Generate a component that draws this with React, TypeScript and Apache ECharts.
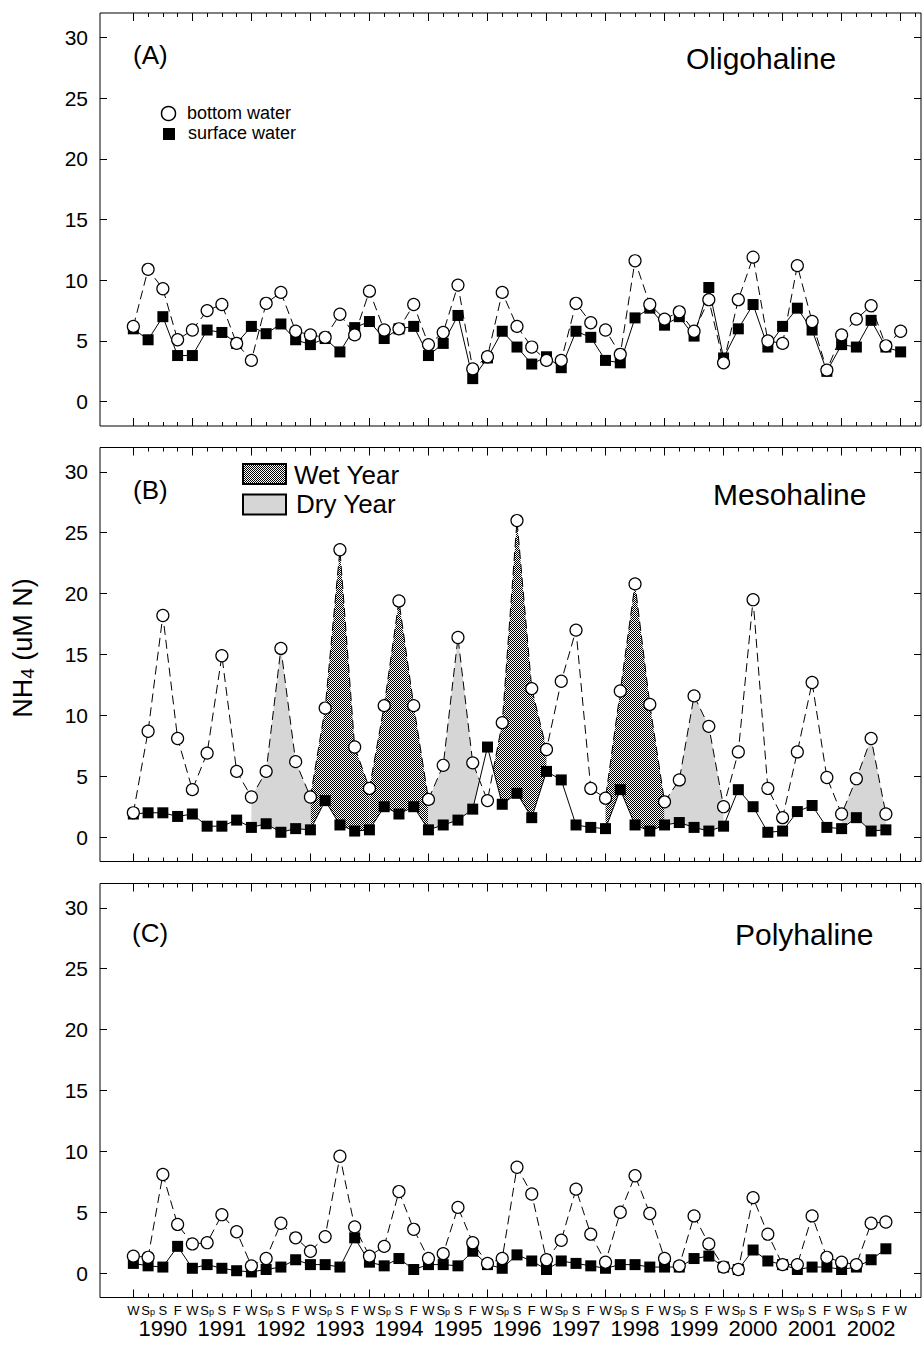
import React, { useEffect, useRef } from 'react';
import * as echarts from 'echarts';

// ---------- data ----------
const SEASONS = ['W', 'S{p|p}', 'S', 'F'];
const YEARS = [1990, 1991, 1992, 1993, 1994, 1995, 1996, 1997, 1998, 1999, 2000, 2001, 2002];
const Y_TICKS = [0, 5, 10, 15, 20, 25, 30];

// Oligohaline (A) – seasonal, W 1990 ... W 2003
const oligoBottom = [
  6.2, 10.9, 9.3, 5.1, 5.9, 7.5, 8.0, 4.8, 3.4, 8.1, 9.0, 5.8, 5.5, 5.3, 7.2, 5.5,
  9.1, 5.9, 6.0, 8.0, 4.7, 5.7, 9.6, 2.7, 3.7, 9.0, 6.2, 4.5, 3.4, 3.4, 8.1, 6.5,
  5.9, 3.9, 11.6, 8.0, 6.8, 7.4, 5.8, 8.4, 3.2, 8.4, 11.9, 5.0, 4.8, 11.2, 6.6, 2.6,
  5.5, 6.8, 7.9, 4.6, 5.8,
];
const oligoSurface = [
  6.0, 5.1, 7.0, 3.8, 3.8, 5.9, 5.7, 4.8, 6.2, 5.6, 6.4, 5.1, 4.7, 5.2, 4.1, 6.1,
  6.6, 5.2, 6.0, 6.2, 3.8, 4.8, 7.1, 1.9, 3.6, 5.8, 4.5, 3.1, 3.7, 2.8, 5.8, 5.3,
  3.4, 3.2, 6.9, 7.7, 6.3, 7.0, 5.4, 9.4, 3.6, 6.0, 8.0, 4.5, 6.2, 7.7, 5.9, 2.5,
  4.7, 4.5, 6.7, 4.5, 4.1,
];

// Mesohaline (B) – W 1990 ... F 2002
const mesoBottom = [
  2.0, 8.7, 18.2, 8.1, 3.9, 6.9, 14.9, 5.4, 3.3, 5.4, 15.5, 6.2, 3.3, 10.6, 23.6, 7.4,
  4.0, 10.8, 19.4, 10.8, 3.1, 5.9, 16.4, 6.1, 3.0, 9.4, 26.0, 12.2, 7.2, 12.8, 17.0, 4.0,
  3.2, 12.0, 20.8, 10.9, 2.9, 4.7, 11.6, 9.1, 2.5, 7.0, 19.5, 4.0, 1.6, 7.0, 12.7, 4.9,
  1.9, 4.8, 8.1, 1.9,
];
const mesoSurface = [
  1.9, 2.0, 2.0, 1.7, 1.9, 0.9, 0.9, 1.4, 0.8, 1.1, 0.4, 0.7, 0.6, 3.0, 1.0, 0.5,
  0.6, 2.5, 1.9, 2.5, 0.6, 1.0, 1.4, 2.3, 7.4, 2.7, 3.6, 1.6, 5.4, 4.7, 1.0, 0.8,
  0.7, 3.9, 1.0, 0.5, 1.0, 1.2, 0.8, 0.5, 0.9, 3.9, 2.5, 0.4, 0.5, 2.1, 2.6, 0.8,
  0.7, 1.6, 0.5, 0.6,
];

// Polyhaline (C) – W 1990 ... F 2002
const polyBottom = [
  1.4, 1.3, 8.1, 4.0, 2.4, 2.5, 4.8, 3.4, 0.6, 1.2, 4.1, 2.9, 1.8, 3.0, 9.6, 3.8,
  1.4, 2.2, 6.7, 3.6, 1.2, 1.6, 5.4, 2.5, 0.8, 1.2, 8.7, 6.5, 1.1, 2.7, 6.9, 3.2,
  0.9, 5.0, 8.0, 4.9, 1.2, 0.6, 4.7, 2.4, 0.5, 0.3, 6.2, 3.2, 0.7, 0.7, 4.7, 1.3,
  0.9, 0.7, 4.1, 4.2,
];
const polySurface = [
  0.8, 0.6, 0.5, 2.2, 0.4, 0.7, 0.4, 0.2, 0.1, 0.3, 0.5, 1.1, 0.7, 0.7, 0.5, 2.9,
  0.9, 0.6, 1.2, 0.3, 0.7, 0.7, 0.6, 1.8, 0.7, 0.4, 1.5, 1.0, 0.3, 1.0, 0.8, 0.6,
  0.4, 0.7, 0.7, 0.5, 0.5, 0.5, 1.2, 1.4, 0.5, 0.3, 1.9, 1.0, 0.7, 0.3, 0.5, 0.5,
  0.3, 0.5, 1.1, 2.0,
];

const wetYears = [1993, 1994, 1996, 1998];
const dryYears = [1992, 1995, 1999, 2002];

const PANELS = [
  { tag: '(A)', name: 'Oligohaline', bottom: oligoBottom, surface: oligoSurface },
  { tag: '(B)', name: 'Mesohaline', bottom: mesoBottom, surface: mesoSurface },
  { tag: '(C)', name: 'Polyhaline', bottom: polyBottom, surface: polySurface },
];

// ---------- layout / style ----------
const FONT = '"Liberation Sans", Arial, Helvetica, sans-serif';
const GRID_RECTS = [
  { top: 13, height: 413 },
  { top: 447.5, height: 414 },
  { top: 883.5, height: 414 },
];
const X_MIN = -2.26;
const X_MAX = 53.38;
const DRY_GRAY = '#d6d6d6';

export default function App() {
  const ref = useRef<HTMLDivElement>(null);

  useEffect(() => {
    document.body.style.margin = '0';
    if (!ref.current) return;
    const chart = echarts.init(ref.current, null, { renderer: 'svg' });

    const tile = document.createElement('canvas');
    tile.width = 2;
    tile.height = 2;
    const ctx = tile.getContext('2d')!;
    ctx.fillStyle = '#ffffff';
    ctx.fillRect(0, 0, 2, 2);
    ctx.fillStyle = '#000000';
    ctx.fillRect(0, 0, 1, 1);
    ctx.fillRect(1, 1, 1, 1);
    const wetFill: any = { image: tile, repeat: 'repeat', imageWidth: 2, imageHeight: 2 };

    const nSeasons = YEARS.length * 4; // 52
    const minorTicks: number[] = [];
    for (let i = 0; i <= nSeasons + 1; i++) minorTicks.push(i);
    const majorTicks: number[] = YEARS.map((_, k) => k * 4).concat([nSeasons]);
    const seasonLabelPos: number[] = [];
    for (let i = 0; i <= nSeasons; i++) seasonLabelPos.push(i);
    const yearLabelPos = YEARS.map((_, k) => k * 4 + 2);

    const grids: any[] = [];
    const xAxes: any[] = [];
    const yAxes: any[] = [];
    const series: any[] = [];
    const noLine = { show: false, onZero: false };

    PANELS.forEach((p, pi) => {
      const r = GRID_RECTS[pi];
      const last = pi === PANELS.length - 1;
      grids.push({
        left: 100, right: 1, top: r.top, height: r.height,
        show: true, borderColor: '#000', borderWidth: 1, backgroundColor: '#fff',
        outerBoundsMode: 'none',
      });
      grids.push({
        left: 100, right: 1, top: r.top, height: r.height, show: false,
        outerBoundsMode: 'none',
      });
      const gMain = pi * 2;
      const gTick = pi * 2 + 1;
      const xBase = {
        type: 'value', min: X_MIN, max: X_MAX,
        axisLine: noLine, splitLine: { show: false },
      };
      const tickStyle = { color: '#000', width: 1 };
      // minor ticks (each season)
      xAxes.push({
        ...xBase, gridIndex: gMain, position: 'bottom',
        axisTick: { show: true, inside: true, length: 4, customValues: minorTicks, lineStyle: tickStyle },
        axisLabel: last
          ? {
              show: true, customValues: seasonLabelPos, margin: 6,
              formatter: (v: number) => SEASONS[Math.round(v) % 4],
              color: '#000', fontSize: 13, fontFamily: FONT, lineHeight: 13,
              rich: { p: { fontSize: 9, color: '#000', fontFamily: FONT, verticalAlign: 'bottom', lineHeight: 10 } },
            }
          : { show: false },
      });
      xAxes.push({
        ...xBase, gridIndex: gMain, position: 'top',
        axisTick: { show: true, inside: true, length: 4, customValues: minorTicks, lineStyle: tickStyle },
        axisLabel: { show: false },
      });
      // major ticks (each year)
      xAxes.push({
        ...xBase, gridIndex: gTick, position: 'bottom',
        axisTick: { show: true, inside: true, length: 8, customValues: majorTicks, lineStyle: tickStyle },
        axisLabel: last
          ? {
              show: true, customValues: yearLabelPos, margin: 21,
              formatter: (v: number) => String(YEARS[Math.round((v - 2) / 4)]),
              color: '#000', fontSize: 22, fontFamily: FONT, lineHeight: 20,
            }
          : { show: false },
      });
      xAxes.push({
        ...xBase, gridIndex: gTick, position: 'top',
        axisTick: { show: true, inside: true, length: 8, customValues: majorTicks, lineStyle: tickStyle },
        axisLabel: { show: false },
      });

      const yBase = {
        type: 'value', min: -2, max: 32, gridIndex: gMain,
        axisLine: noLine, splitLine: { show: false },
        axisTick: { show: true, inside: true, length: 7, customValues: Y_TICKS, lineStyle: tickStyle },
      };
      yAxes.push({
        ...yBase, position: 'left',
        axisLabel: { show: true, customValues: Y_TICKS, margin: 12, color: '#000', fontSize: 21, fontFamily: FONT },
      });
      yAxes.push({ ...yBase, position: 'right', axisLabel: { show: false } });
      yAxes.push({ type: 'value', gridIndex: gTick, show: false, min: -2, max: 32, axisLine: noLine });

      const xi = pi * 4;
      const yi = pi * 3;
      series.push({
        type: 'line', name: 'surface water', xAxisIndex: xi, yAxisIndex: yi, z: 3,
        data: p.surface.map((v, i) => [i, v]),
        symbol: 'rect', symbolSize: 11, showAllSymbol: true,
        itemStyle: { color: '#000' },
        lineStyle: { color: '#000', width: 1 },
      });
      series.push({
        type: 'line', name: 'bottom water', xAxisIndex: xi, yAxisIndex: yi, z: 4,
        data: p.bottom.map((v, i) => [i, v]),
        symbol: 'circle', symbolSize: 12, showAllSymbol: true,
        itemStyle: { color: '#fff', borderColor: '#000', borderWidth: 1.2 },
        lineStyle: { color: '#000', width: 1, type: [9, 5] },
      });
    });

    // wet / dry year shading between bottom and surface water (Mesohaline)
    const fillItems = wetYears.map((y) => [(y - YEARS[0]) * 4, 0])
      .concat(dryYears.map((y) => [(y - YEARS[0]) * 4, 1]));
    series.push({
      type: 'custom', xAxisIndex: 4, yAxisIndex: 3, z: 2, silent: true,
      data: fillItems,
      renderItem: (params: any, api: any) => {
        const start = api.value(0);
        const kind = api.value(1);
        const b = mesoBottom;
        const s = mesoSurface;
        const end = Math.min(start + 4, b.length - 1);
        const upper: number[][] = [];
        const lower: number[][] = [];
        for (let j = start; j <= end; j++) {
          upper.push([j, Math.max(b[j], s[j])]);
          lower.push([j, s[j]]);
          if (j < end) {
            const d0 = b[j] - s[j];
            const d1 = b[j + 1] - s[j + 1];
            if (d0 * d1 < 0) {
              const t = d0 / (d0 - d1);
              const pt = [j + t, s[j] + t * (s[j + 1] - s[j])];
              upper.push(pt);
              lower.push(pt);
            }
          }
        }
        const pts = upper.concat(lower.reverse()).map((q) => api.coord(q));
        return {
          type: 'polygon',
          shape: { points: pts },
          style: { fill: kind === 0 ? wetFill : DRY_GRAY, stroke: null },
        };
      },
    });

    const txt = (x: number, y: number, text: string, fontSize: number, extra: any = {}) => ({
      type: 'text', x, y, z: 100,
      style: { text, fontSize, fontFamily: FONT, fill: '#000', align: 'left', verticalAlign: 'middle', ...extra },
    });

    const graphic: any[] = [
      txt(133, 55, PANELS[0].tag, 26),
      txt(133, 490, PANELS[1].tag, 26),
      txt(132, 933, PANELS[2].tag, 26),
      txt(686, 58, PANELS[0].name, 30),
      txt(713, 494, PANELS[1].name, 30),
      txt(735, 934, PANELS[2].name, 30),
      // legend A
      { type: 'circle', z: 100, shape: { cx: 168.5, cy: 113.5, r: 7 }, style: { fill: '#fff', stroke: '#000', lineWidth: 1.5 } },
      txt(187, 113, 'bottom water', 18),
      { type: 'rect', z: 100, shape: { x: 163, y: 128, width: 12, height: 12 }, style: { fill: '#000' } },
      txt(188, 133, 'surface water', 18),
      // legend B
      { type: 'rect', z: 100, shape: { x: 243, y: 464, width: 43, height: 20 }, style: { fill: wetFill, stroke: '#000', lineWidth: 2 } },
      txt(294, 474.5, 'Wet Year', 26),
      { type: 'rect', z: 100, shape: { x: 243, y: 494.5, width: 43, height: 20 }, style: { fill: DRY_GRAY, stroke: '#000', lineWidth: 2 } },
      txt(296, 503.5, 'Dry Year', 26),
      // y-axis title
      {
        type: 'text', x: 23, y: 648, rotation: Math.PI / 2, z: 100,
        style: {
          text: 'NH{sub|4} (uM N)', fontSize: 27, fontFamily: FONT, fill: '#000',
          align: 'center', verticalAlign: 'middle',
          rich: {
            sub: { fontSize: 19, fontFamily: FONT, fill: '#000', verticalAlign: 'bottom' },
          },
        },
      },
    ];

    chart.setOption({
      animation: false,
      backgroundColor: '#fff',
      grid: grids,
      xAxis: xAxes,
      yAxis: yAxes,
      series,
      graphic,
    });

    return () => chart.dispose();
  }, []);

  return <div ref={ref} style={{ width: 922, height: 1347, background: '#fff' }} />;
}
